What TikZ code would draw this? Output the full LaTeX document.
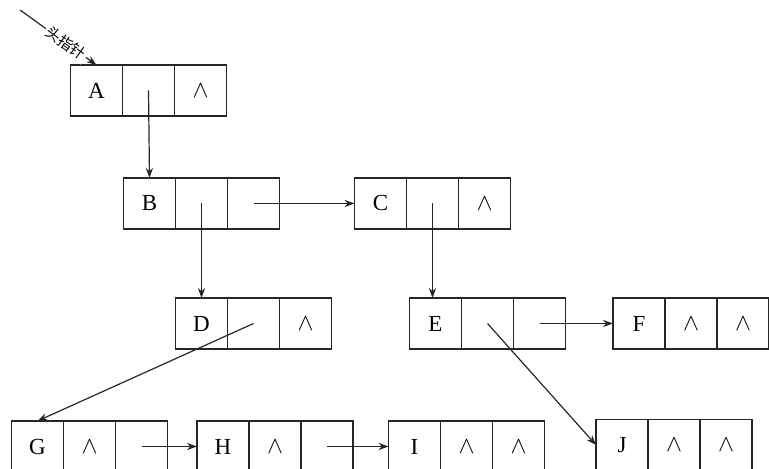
\documentclass[tikz,border=0pt]{standalone}
\usepackage{fontspec}
\setmainfont{Liberation Serif}
\newfontfamily\cjk{Noto Sans CJK SC}
\usetikzlibrary{arrows.meta, positioning}

% one list node: name, position of data cell, data, middle field, last field
\newcommand{\listnode}[5]{%
  \node[cell] (#1) at (#2) {#3};
  \node[cell, right=0pt of #1] (#1m) {#4};
  \node[cell, right=0pt of #1m] (#1p) {#5};
}
\newcommand{\nil}{$\wedge$}

\begin{document}
\begin{tikzpicture}[
    x=0.5pt, y=-0.5pt,
    font=\fontsize{11.5}{13}\selectfont,
    cell/.style={rectangle, draw=black!85, line width=0.8pt, minimum width=26pt, minimum height=25.5pt, inner sep=0pt, outer sep=0pt},
    arrow/.style={line width=0.6pt, -{Stealth[length=5pt, width=3.6pt]}, draw=black!85},
    headtext/.style={sloped, fill=white, inner sep=1pt, font=\cjk\fontsize{7.5}{8}\selectfont}
  ]
  \clip (0,0) rectangle (769,469);

  \listnode{A}{96.5,90.5}{A}{}{\nil}
  \listnode{B}{149.5,203.5}{B}{}{}
  \listnode{C}{380.5,203.5}{C}{}{\nil}
  \listnode{D}{201.5,323.5}{D}{}{\nil}
  \listnode{E}{435.5,323.5}{E}{}{}
  \listnode{F}{639,323.5}{F}{\nil}{\nil}
  \listnode{G}{37.5,446.5}{G}{\nil}{}
  \listnode{H}{223,446.5}{H}{\nil}{}
  \listnode{I}{414.5,446.5}{I}{\nil}{\nil}
  \listnode{J}{622,445}{J}{\nil}{\nil}

  \coordinate (head) at (20,10);
  \draw [arrow] (head) -- node[headtext, pos=0.6] {头指针} (A.north);

  \draw [arrow] (Am.center) -- (B.north);
  \draw [arrow] (Bm.center) -- (D.north);
  \draw [arrow] (Bp.center) -- (C.west);
  \draw [arrow] (Cm.center) -- (Cm.center |- E.north);
  \draw [arrow] (Dm.center) -- (G.north);
  \draw [arrow] (Em.center) -- (J.west);
  \draw [arrow] (Ep.center) -- (F.west);
  \draw [arrow] (Gp.center) -- (H.west);
  \draw [arrow] (Hp.center) -- (I.west);
\end{tikzpicture}
\end{document}
